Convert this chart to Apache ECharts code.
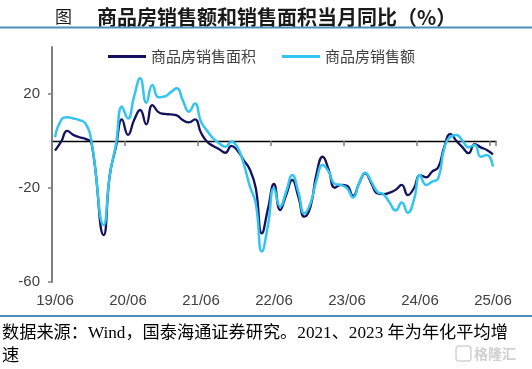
<!DOCTYPE html>
<html><head><meta charset="utf-8">
<script src="https://cdn.jsdelivr.net/npm/echarts@6/dist/echarts.min.js"></script>
<style>html,body{margin:0;padding:0;background:#fff}#c{width:532px;height:369px}</style>
</head><body><div id="c"></div>
<script>
const categories = [
 '19/06','19/07','19/08','19/09','19/10','19/11','19/12',
 '20/01','20/02','20/03','20/04','20/05','20/06','20/07','20/08','20/09','20/10','20/11','20/12',
 '21/01','21/02','21/03','21/04','21/05','21/06','21/07','21/08','21/09','21/10','21/11','21/12',
 '22/01','22/02','22/03','22/04','22/05','22/06','22/07','22/08','22/09','22/10','22/11','22/12',
 '23/01','23/02','23/03','23/04','23/05','23/06','23/07','23/08','23/09','23/10','23/11','23/12',
 '24/01','24/02','24/03','24/04','24/05','24/06','24/07','24/08','24/09','24/10','24/11','24/12',
 '25/01','25/02','25/03','25/04','25/05','25/06'
];
// 商品房销售面积 当月同比 (%)
const salesArea = [
 -4.1,-0.3,4.3,2.6,1.6,0.9,-1.0,
 null,-40.0,-14.5,-2.7,9.2,2.6,8.9,13.2,7.1,15.3,12.3,11.5,
 11.3,10.9,8.9,7.9,9.2,3.5,-0.3,-2.1,-3.5,-5.0,-2.1,-4.1,
 -8.1,-12.0,-20.0,-39.3,-29.0,-18.3,-29.4,-23.0,-16.6,-23.7,-32.2,-27.9,
 -13.8,-6.7,-12.3,-19.9,-18.7,-19.1,-23.4,-18.0,-13.8,-18.0,-22.3,-22.6,
 -22.0,-20.8,-18.7,-23.0,-20.1,-14.5,-15.5,-13.0,-11.2,-2.4,3.0,0.0,
 -2.7,-5.2,-1.3,-2.7,-3.8,-5.7
];
// 商品房销售额 当月同比 (%)
const salesAmount = [
 1.6,8.9,10.1,9.6,8.9,7.5,-0.3,
 null,-35.7,-14.5,-1.7,14.6,9.6,19.0,26.7,16.3,23.8,18.6,18.9,
 20.7,22.4,17.4,12.5,16.0,8.2,4.4,1.1,-1.0,-2.4,-0.3,-2.7,
 -9.5,-19.0,-26.5,-47.0,-36.0,-20.1,-27.9,-21.6,-14.5,-21.6,-30.8,-26.5,
 -16.6,-10.2,-13.1,-18.3,-18.7,-20.1,-24.0,-18.0,-13.5,-17.3,-21.6,-22.7,
 -26.2,-29.6,-26.2,-30.5,-25.1,-14.5,-18.7,-17.3,-15.9,-3.1,1.8,2.6,
 0.1,-2.7,-1.7,-6.7,-6.0,-10.9
];
const yTickValues = [-60, -20, 20];
const seriesNames = ['商品房销售面积', '商品房销售额'];
const figLabel = '图';
const titleText = '商品房销售额和销售面积当月同比（%）';
const footText = '数据来源：Wind，国泰海通证券研究。2021、2023 年为年化平均增\n速';

const chart = echarts.init(document.getElementById('c'), null, {renderer:'canvas'});
const cjk = "'Noto Sans CJK SC', sans-serif";
chart.setOption({
  animation: false,
  backgroundColor: '#fff',
  grid: {left: 52, right: 36, top: 47, bottom: 87, containLabel: false},
  legend: {
    left: 108, top: 49, padding: 0, icon: 'rect', itemWidth: 38, itemHeight: 3, itemGap: 26,
    textStyle: {color: '#404040', fontSize: 15, fontFamily: cjk},
    data: seriesNames
  },
  xAxis: [{
    type: 'category', data: categories, boundaryGap: true,
    axisLine: {onZero: true, lineStyle: {color: '#000', width: 1.3}},
    axisTick: {show: true, interval: 11, length: 5, lineStyle: {color: '#7f7f7f', width: 1.5}},
    axisLabel: {show: false}, splitLine: {show: false}
  }, {
    type: 'category', data: categories, boundaryGap: true, position: 'bottom',
    axisLine: {show: false, onZero: false}, axisTick: {show: false},
    axisLabel: {interval: 11, margin: 11, color: '#404040', fontSize: 15, fontFamily: "'Liberation Sans', Arial"},
    splitLine: {show: false}
  }],
  yAxis: {
    type: 'value', min: -60, max: 40,
    axisLine: {show: true, lineStyle: {color: '#808080', width: 2}},
    axisTick: {show: true, length: 4, customValues: yTickValues, lineStyle: {color: '#808080', width: 1.5}},
    axisLabel: {customValues: yTickValues, margin: 12, color: '#404040', fontSize: 15, fontFamily: "'Liberation Sans', Arial"},
    splitLine: {show: false}
  },
  series: [{
    name: seriesNames[0], type: 'line', data: salesArea, smooth: 0.5, connectNulls: true,
    symbol: 'none', lineStyle: {color: '#12125E', width: 2.3}, itemStyle: {color: '#12125E'}
  }, {
    name: seriesNames[1], type: 'line', data: salesAmount, smooth: 0.5, connectNulls: true,
    symbol: 'none', lineStyle: {color: '#33C5EF', width: 2.5}, itemStyle: {color: '#33C5EF'}
  }],
  graphic: [
    {type: 'text', x: 55, y: 17, style: {text: figLabel, fill: '#1a1a1a', font: "17px " + cjk, verticalAlign: 'middle'}},
    {type: 'text', x: 97, y: 17, style: {text: titleText, fill: '#1a1a1a', font: "bold 20px " + cjk, verticalAlign: 'middle'}},
    {type: 'rect', shape: {x: 0, y: 26.5, width: 532, height: 2}, style: {fill: '#4B8DBE'}},
    {type: 'rect', shape: {x: 0, y: 315, width: 532, height: 2}, style: {fill: '#4B8DBE'}},
    {type: 'text', x: 2, y: 322, style: {text: footText, fill: '#000', font: "17.2px 'Liberation Serif', 'Noto Sans CJK SC'", lineHeight: 23, verticalAlign: 'top'}},
    {type: 'rect', shape: {x: 456, y: 346, width: 15, height: 15, r: 3}, style: {fill: 'none', stroke: '#d4d4d4', lineWidth: 1.5}},
    {type: 'text', x: 474, y: 354, style: {text: '格隆汇', fill: '#d0d0d0', font: "bold 14px " + cjk, verticalAlign: 'middle'}}
  ]
});
</script></body></html>
